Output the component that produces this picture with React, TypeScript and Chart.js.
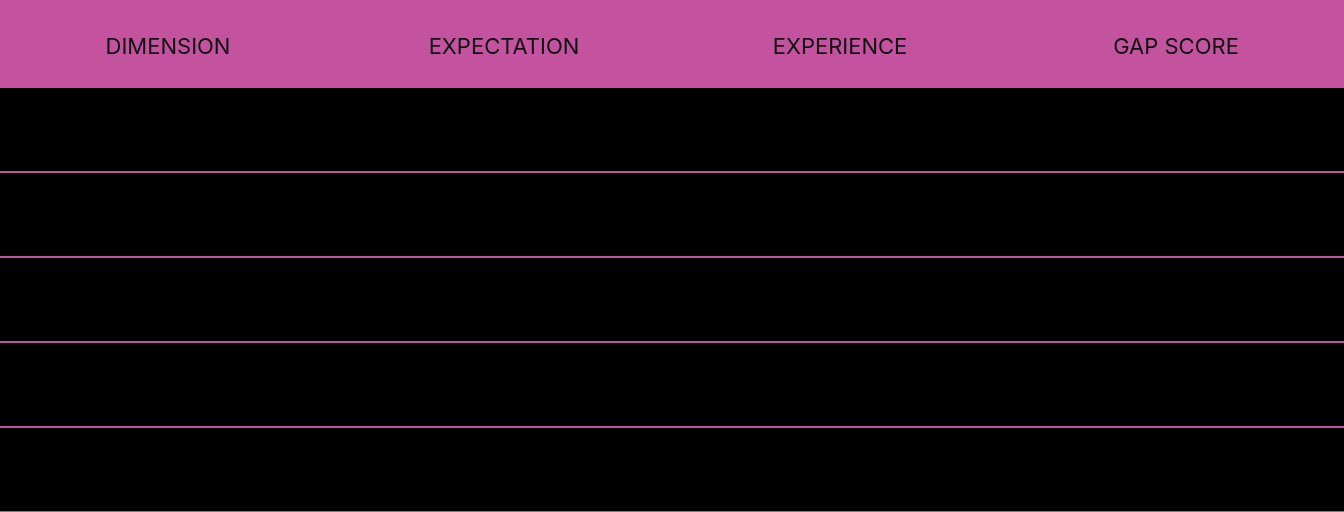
import React, { useEffect, useRef } from 'react';
import Chart from 'chart.js/auto';

// Table header and the (empty) rows
const columns = ['DIMENSION', 'EXPECTATION', 'EXPERIENCE', 'GAP SCORE'];
const rows = ['', '', '', '', ''];

const PINK = '#c4539f';
const HEADER_H = 87;

const App: React.FC = () => {
    const canvasRef = useRef<HTMLCanvasElement | null>(null);

    useEffect(() => {
        if (!canvasRef.current) return;
        const chart = new Chart(canvasRef.current, {
            type: 'bar',
            data: { labels: columns, datasets: [{ data: [], backgroundColor: PINK }] },
            options: {
                animation: false,
                responsive: true,
                maintainAspectRatio: false,
                layout: { padding: 0 },
                plugins: { legend: { display: false }, tooltip: { enabled: false } },
                scales: {
                    x: {
                        type: 'category',
                        position: 'top',
                        grid: { display: false, drawTicks: false },
                        border: { display: false },
                        ticks: {
                            color: '#111',
                            padding: 26,
                            maxRotation: 0,
                            font: { family: 'Inter, "Open Sans", sans-serif', size: 22 },
                        },
                        afterFit: (s: any) => { s.height = HEADER_H; },
                    },
                    y: {
                        type: 'category',
                        labels: rows,
                        offset: true,
                        grid: { color: PINK, lineWidth: 2, offset: true, drawTicks: false },
                        border: { display: false },
                        ticks: { display: false },
                        afterFit: (s: any) => { s.width = 0; },
                    },
                },
            },
            plugins: [
                {
                    id: 'tableBg',
                    beforeDraw: (c: any) => {
                        const ctx = c.ctx;
                        ctx.save();
                        ctx.fillStyle = '#000';
                        ctx.fillRect(0, 0, c.width, c.height);
                        ctx.fillStyle = PINK;
                        ctx.fillRect(0, 0, c.width, c.chartArea.top);
                        ctx.restore();
                    },
                },
            ],
        });
        return () => chart.destroy();
    }, []);

    return (
        <div style={{ position: 'absolute', left: 0, top: 0, width: 1344, height: 512, background: '#000' }}>
            <canvas ref={canvasRef}></canvas>
        </div>
    );
};

export default App;
